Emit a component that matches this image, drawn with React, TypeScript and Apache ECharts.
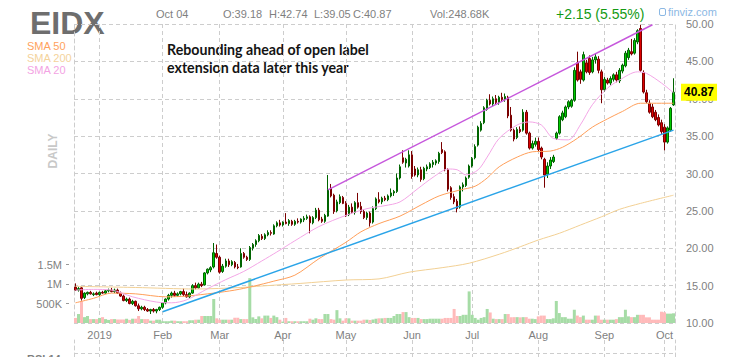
import React, { useEffect, useRef } from "react";
import * as echarts from "echarts";

// ---------- categories ----------
const FIRST_SESSION = "2018-12-19";
const SESSION_COUNT = 200;
const MARKET_HOLIDAYS = ["2018-12-25", "2019-01-01", "2019-01-21", "2019-02-18", "2019-04-19", "2019-05-27", "2019-07-04", "2019-09-02"];
const MONTH_NAMES = ["Jan", "Feb", "Mar", "Apr", "May", "Jun", "Jul", "Aug", "Sep", "Oct", "Nov", "Dec"];

// ---------- daily candles: [open, high, low, close] ----------
const dec18 = [
  [14.8, 15.3, 14.3, 14.4], [14.4, 14.8, 14.2, 14.6], [14.7, 14.8, 13.0, 13.3], [13.4, 14.1, 13.2, 14.0],
  [13.9, 14.2, 13.7, 14.1], [14.1, 14.3, 13.8, 13.9], [13.8, 14.1, 13.6, 13.9], [14.0, 14.2, 13.7, 13.8],
];
const jan19 = [
  [13.8, 14.2, 13.6, 14.1], [14.1, 14.3, 13.9, 14.0], [14.0, 14.4, 13.9, 14.3], [14.3, 14.6, 14.1, 14.4],
  [14.4, 14.7, 14.1, 14.2], [14.2, 14.6, 14.0, 14.4], [14.4, 14.6, 13.9, 14.0], [14.0, 14.2, 13.5, 13.6],
  [13.6, 13.8, 12.9, 13.0], [13.0, 13.4, 12.8, 13.2], [13.2, 13.4, 12.5, 12.6], [12.6, 13.1, 12.4, 12.9],
  [12.9, 13.0, 12.2, 12.3], [12.3, 12.6, 11.6, 11.9], [11.9, 12.3, 11.7, 12.1], [12.1, 12.3, 11.6, 11.8],
  [11.8, 12.0, 11.5, 11.6], [11.6, 11.9, 11.2, 11.8], [11.8, 12.0, 11.4, 11.6], [11.6, 11.9, 11.3, 11.8],
  [11.8, 12.2, 11.6, 12.1],
];
const feb19 = [
  [12.1, 12.8, 11.9, 12.7], [12.7, 13.3, 12.5, 13.2], [13.2, 13.9, 13.0, 13.7], [13.7, 14.2, 13.4, 14.0],
  [14.0, 14.3, 13.5, 13.7], [13.7, 14.1, 13.5, 13.9], [13.9, 14.3, 13.7, 14.2], [14.2, 14.6, 13.6, 13.8],
  [13.8, 14.2, 13.4, 13.5], [13.5, 14.1, 13.3, 14.0], [14.0, 15.2, 13.9, 15.0], [15.0, 15.4, 14.5, 14.7],
  [14.7, 15.4, 14.6, 15.2], [15.2, 15.5, 14.8, 15.0], [15.1, 16.8, 15.0, 16.7], [16.7, 17.3, 16.5, 17.2],
  [17.1, 17.6, 16.8, 17.4], [17.5, 20.7, 17.3, 19.4], [19.3, 20.5, 18.6, 18.8],
];
const mar19 = [
  [18.8, 19.0, 16.6, 16.8], [16.9, 17.9, 16.7, 17.6], [17.6, 18.6, 17.4, 18.3], [18.3, 18.6, 17.5, 17.8],
  [17.8, 18.4, 17.6, 18.2], [18.1, 18.3, 17.3, 17.5], [17.5, 17.9, 17.2, 17.4], [17.5, 20.0, 17.4, 19.3],
  [19.3, 19.5, 18.6, 18.8], [18.8, 19.0, 18.3, 18.5], [18.5, 20.3, 18.3, 20.1], [20.0, 20.7, 19.7, 20.5],
  [20.5, 21.2, 20.2, 21.0], [21.0, 21.9, 20.8, 21.7], [21.6, 21.9, 21.1, 21.3], [21.3, 22.0, 21.1, 21.8],
  [21.8, 22.4, 21.6, 22.1], [22.1, 22.4, 21.7, 22.0], [21.9, 23.2, 21.8, 23.0], [23.0, 23.6, 22.8, 23.4],
  [23.4, 23.8, 22.9, 23.1],
];
const apr19 = [
  [23.1, 23.6, 22.9, 23.5], [23.5, 24.7, 23.2, 23.3], [23.3, 23.9, 23.0, 23.7], [23.6, 23.8, 23.0, 23.2],
  [23.2, 23.8, 23.0, 23.6], [23.6, 24.0, 23.3, 23.5], [23.5, 24.0, 23.3, 23.9], [23.8, 24.3, 23.5, 24.0],
  [24.0, 24.5, 23.8, 24.2], [24.2, 24.4, 22.0, 23.4], [23.4, 24.3, 23.2, 24.1], [24.1, 25.4, 23.9, 25.1],
  [25.1, 25.4, 23.6, 23.8], [23.9, 24.2, 23.4, 23.6], [23.6, 24.6, 23.4, 24.4], [24.3, 29.8, 24.2, 27.8],
  [28.0, 28.6, 26.8, 27.0], [27.1, 27.3, 24.6, 24.9], [25.0, 26.5, 24.8, 26.2], [26.1, 27.2, 25.9, 26.9],
  [26.8, 27.0, 25.9, 26.0],
];
const may19 = [
  [26.0, 26.3, 24.2, 24.4], [24.5, 25.8, 24.3, 25.5], [25.5, 26.0, 24.6, 24.8], [24.8, 26.3, 24.5, 26.1],
  [26.1, 27.4, 25.3, 25.5], [25.6, 26.2, 24.6, 24.9], [24.9, 25.2, 23.9, 24.1], [24.1, 24.9, 23.8, 24.7],
  [24.7, 24.9, 22.9, 23.4], [23.5, 25.6, 23.3, 25.3], [25.3, 26.8, 25.1, 26.6], [26.5, 27.5, 26.0, 26.2],
  [26.2, 26.9, 25.9, 26.7], [26.7, 27.0, 26.3, 26.5], [26.5, 27.2, 26.3, 27.0], [27.0, 28.0, 26.8, 27.4],
  [27.4, 27.8, 27.0, 27.6], [27.6, 30.0, 27.4, 29.4], [29.4, 31.2, 29.2, 30.9], [32.1, 33.1, 31.3, 31.5],
  [31.4, 32.1, 30.8, 31.9], [31.0, 33.1, 30.8, 32.5],
];
const jun19 = [
  [32.5, 33.0, 29.3, 29.6], [30.6, 31.0, 29.6, 29.8], [29.8, 30.8, 29.5, 30.5], [30.5, 30.9, 28.9, 29.2],
  [29.3, 30.9, 29.1, 30.7], [30.6, 31.2, 30.3, 30.9], [30.8, 31.5, 30.6, 31.3], [31.2, 31.8, 30.8, 31.5],
  [31.4, 31.9, 31.1, 31.7], [31.6, 32.9, 31.3, 32.7], [33.2, 34.2, 32.6, 32.8], [32.9, 33.1, 30.3, 30.5],
  [30.5, 30.7, 27.6, 27.9], [28.1, 28.3, 26.5, 26.8], [26.9, 27.3, 25.9, 26.2], [26.3, 26.6, 24.8, 25.3],
  [25.5, 28.4, 25.3, 28.2], [28.2, 28.8, 27.6, 28.5], [28.4, 29.6, 28.2, 29.4], [29.5, 31.2, 29.3, 31.0],
];
const jul19 = [
  [31.0, 32.2, 30.8, 32.0], [32.1, 33.9, 31.9, 33.6], [33.8, 36.4, 33.6, 36.2], [35.8, 37.0, 35.6, 36.7],
  [36.8, 39.0, 36.6, 38.8], [38.6, 40.0, 38.4, 39.8], [39.8, 40.6, 39.1, 39.3], [39.3, 40.3, 39.0, 40.0],
  [40.0, 40.5, 39.2, 39.5], [39.5, 40.4, 39.2, 40.2], [40.2, 40.8, 39.6, 39.9], [39.9, 40.7, 39.6, 40.3],
  [40.2, 40.4, 37.4, 37.7], [37.8, 38.9, 35.6, 35.8], [35.8, 36.0, 34.3, 34.6], [34.8, 36.2, 34.6, 35.9],
  [35.9, 36.3, 35.4, 35.6], [35.8, 38.6, 35.6, 38.2], [38.2, 38.5, 35.2, 35.4], [35.4, 35.6, 33.2, 33.4],
  [33.4, 34.4, 33.2, 34.0], [33.9, 34.8, 33.6, 34.3],
];
const aug19 = [
  [34.3, 34.8, 33.0, 33.2], [33.4, 33.6, 31.9, 32.2], [31.9, 32.1, 28.1, 29.8], [29.9, 31.5, 29.4, 31.0],
  [31.0, 32.2, 30.6, 31.8], [31.6, 32.5, 31.4, 32.2], [34.7, 35.6, 34.5, 35.4], [35.4, 37.8, 35.2, 37.6],
  [37.2, 38.4, 37.0, 38.1], [37.6, 39.1, 37.4, 38.9], [38.9, 39.8, 38.6, 39.6], [39.0, 40.0, 38.8, 39.8],
  [39.8, 44.2, 39.6, 43.8], [44.8, 46.3, 42.3, 42.5], [43.6, 43.9, 42.0, 42.6], [42.5, 46.3, 42.3, 45.9],
  [44.8, 45.2, 43.4, 43.6], [45.4, 45.8, 43.2, 43.5], [43.6, 45.6, 43.4, 45.2], [45.2, 46.1, 44.7, 45.6],
  [45.3, 45.7, 43.4, 43.8], [43.6, 43.9, 39.4, 41.2],
];
const sep19 = [
  [41.2, 42.9, 40.9, 42.6], [42.5, 42.8, 41.9, 42.1], [42.1, 43.0, 41.8, 42.7], [42.6, 43.4, 42.3, 43.2],
  [43.2, 43.6, 42.2, 42.5], [42.4, 44.1, 42.1, 43.8], [43.7, 44.7, 43.4, 44.5], [44.4, 46.4, 44.2, 46.1],
  [45.5, 46.8, 45.2, 46.5], [46.3, 48.0, 45.8, 46.0], [46.1, 48.1, 45.9, 47.8], [47.6, 49.3, 47.3, 49.1],
  [49.4, 49.9, 43.6, 43.8], [43.5, 43.8, 40.7, 40.9], [40.8, 41.2, 39.4, 39.6], [39.4, 39.8, 38.0, 38.2],
  [38.9, 39.3, 37.4, 37.6], [38.2, 38.5, 37.0, 37.2], [37.5, 37.9, 36.3, 36.5], [36.8, 37.2, 35.3, 35.6],
];
const oct19 = [
  [36.2, 36.6, 33.1, 34.2], [34.2, 36.3, 34.0, 36.1], [35.8, 38.9, 35.6, 38.72], [39.18, 42.74, 39.05, 40.87],
];

// ---------- daily volume, thousands of shares ----------
const volDec18 = [130, 230, 560, 150, 180, 100, 100, 100];
const volJan19 = [130, 150, 100, 80, 100, 100, 90, 90, 90, 110, 80, 110, 110, 180, 100, 100, 100, 60, 60, 85, 85];
const volFeb19 = [45, 45, 45, 60, 60, 45, 45, 45, 45, 70, 70, 85, 85, 180, 180, 180, 180, 615, 120];
const volMar19 = [85, 85, 85, 85, 85, 135, 135, 100, 100, 100, 1150, 145, 100, 170, 120, 190, 190, 130, 190, 150, 85];
const volApr19 = [35, 130, 45, 45, 45, 45, 45, 45, 45, 110, 85, 120, 100, 100, 230, 230, 100, 85, 330, 120, 60];
const volMay19 = [120, 120, 60, 60, 60, 60, 85, 85, 77, 90, 110, 120, 120, 130, 130, 130, 180, 230, 230, 280, 280, 150];
const volJun19 = [130, 130, 130, 100, 100, 100, 110, 110, 110, 110, 110, 130, 130, 130, 360, 180, 180, 210, 210, 810];
const volJul19 = [210, 130, 85, 130, 150, 360, 270, 110, 100, 100, 100, 230, 230, 150, 150, 150, 145, 150, 150, 110, 110, 100];
const volAug19 = [170, 190, 190, 100, 100, 120, 565, 255, 150, 150, 110, 110, 340, 190, 150, 190, 85, 85, 85, 190, 190, 85];
const volSep19 = [85, 85, 85, 85, 100, 150, 150, 340, 170, 150, 150, 210, 210, 210, 145, 145, 85, 85, 85, 290];
const volOct19 = [275, 240, 240, 248.68];

// ---------- moving averages: [session index, value] ----------
const sma20 = [
  [0, 14.4], [6, 14.5], [12, 14.4], [19, 13.5], [27, 12.8], [32, 12.7], [37, 13.1], [44, 14.6], [50, 15.8],
  [56, 16.9], [62, 18.3], [67, 19.5], [73, 21.0], [81, 22.9], [90, 24.4], [97, 25.3], [103, 25.7], [108, 26.2],
  [114, 28.0], [119, 29.5], [124, 30.6], [127, 30.5], [130, 29.8], [134, 30.5], [137, 32.2], [141, 34.7],
  [147, 36.5], [151, 36.9], [155, 36.5], [159, 34.7], [164, 34.5], [168, 36.5], [172, 39.2], [177, 41.4],
  [181, 42.5], [187, 43.6], [190, 43.4], [195, 42.1], [199, 40.8],
];
const sma50 = [
  [0, 12.7], [6, 13.3], [12, 14.0], [20, 13.9], [30, 13.5], [37, 13.6], [46, 14.0], [53, 14.4], [59, 14.9],
  [66, 15.6], [73, 16.4], [81, 18.6], [90, 20.8], [95, 22.2], [101, 23.3], [108, 24.3], [115, 25.8], [121, 27.0],
  [128, 27.8], [133, 28.3], [137, 29.4], [141, 30.9], [147, 32.2], [152, 32.9], [158, 33.0], [162, 33.5],
  [167, 34.7], [172, 36.2], [177, 37.3], [182, 38.3], [188, 39.4], [195, 39.4], [199, 39.4],
];
const sma200 = [
  [0, 14.9], [20, 14.75], [40, 14.55], [55, 14.75], [62, 14.95], [75, 15.3], [90, 15.75], [101, 15.9],
  [111, 16.8], [122, 17.4], [131, 18.0], [141, 19.2], [148, 20.2], [154, 21.1], [161, 22.0], [168, 23.1],
  [175, 24.2], [181, 25.2], [188, 26.0], [199, 27.1],
];

// ---------- hand-drawn trend lines: [session index, price] ----------
const channelTop = [[84, 27.8], [192, 49.9]];
const channelBottom = [[29, 11.5], [199, 35.8]];

// ---------- axes ----------
const PRICE_MIN = 10;
const PRICE_MAX = 50;
const PRICE_STEP = 5;
const VOLUME_TICKS = [500000, 1000000, 1500000];
const VOLUME_AXIS_MAX = 7666667;

const GRID_COLOR = "#cdcdcd";
const DASH = [4, 3];
const LABEL_GRAY = "#7f7f7f";
const SANS = '"Liberation Sans", Arial, sans-serif';

function buildSessions(): string[] {
  const out: string[] = [];
  const d = new Date(FIRST_SESSION + "T00:00:00Z");
  while (out.length < SESSION_COUNT) {
    const dow = d.getUTCDay();
    const iso = d.toISOString().slice(0, 10);
    if (dow !== 0 && dow !== 6 && !MARKET_HOLIDAYS.includes(iso)) out.push(iso);
    d.setUTCDate(d.getUTCDate() + 1);
  }
  return out;
}

export default function App() {
  const ref = useRef<HTMLDivElement>(null);

  useEffect(() => {
    if (!ref.current) return;
    const chart = echarts.init(ref.current, undefined, { renderer: "svg" });

    const sessions = buildSessions();
    const ohlc = [...dec18, ...jan19, ...feb19, ...mar19, ...apr19, ...may19, ...jun19, ...jul19, ...aug19, ...sep19, ...oct19];
    const volumes = [...volDec18, ...volJan19, ...volFeb19, ...volMar19, ...volApr19, ...volMay19, ...volJun19, ...volJul19, ...volAug19, ...volSep19, ...volOct19];

    const isMonthStart = (i: number) => i > 0 && sessions[i].slice(0, 7) !== sessions[i - 1].slice(0, 7);
    const monthLabel = (v: string) => {
      const m = Number(v.slice(5, 7));
      return m === 1 ? v.slice(0, 4) : MONTH_NAMES[m - 1];
    };

    const last = ohlc[ohlc.length - 1];
    const prev = ohlc[ohlc.length - 2];
    const change = last[3] - prev[3];
    const pct = (change / prev[3]) * 100;
    const lastDate = sessions[sessions.length - 1];
    const lastVol = volumes[volumes.length - 1];
    const lastDateLabel = `${MONTH_NAMES[Number(lastDate.slice(5, 7)) - 1]} ${lastDate.slice(8, 10)}`;

    const txt = (text: string, x: number, y: number, font: string, fill: string, extra: any = {}, el: any = {}) => ({
      type: "text", x, y, silent: true, ...el,
      style: { text, font, fill, align: "left", verticalAlign: "middle", ...extra },
    });

    const borderAxis = (gridIndex: number, position: string) => ({
      type: "value", gridIndex, position, min: 0, max: 1,
      axisLine: { show: true, lineStyle: { color: GRID_COLOR, type: DASH } },
      axisTick: { show: false }, axisLabel: { show: false }, splitLine: { show: false },
    });

    const option: any = {
      animation: false,
      backgroundColor: "#ffffff",
      grid: [
        { left: 74, right: 76, top: 24, bottom: 34 },
        { left: 74, right: 76, top: 340, bottom: 0 },
      ],
      xAxis: [
        {
          type: "category", gridIndex: 0, data: sessions, boundaryGap: true,
          axisLine: { show: false }, axisTick: { show: false },
          axisLabel: {
            interval: (i: number) => isMonthStart(i), formatter: monthLabel,
            color: LABEL_GRAY, fontSize: 11, fontFamily: SANS, margin: 6,
          },
          splitLine: { show: true, interval: (i: number) => isMonthStart(i), alignWithLabel: true, lineStyle: { color: GRID_COLOR, type: DASH } },
        },
        {
          type: "category", gridIndex: 1, data: sessions, boundaryGap: true,
          axisLine: { show: false }, axisTick: { show: false }, axisLabel: { show: false },
          splitLine: { show: true, interval: (i: number) => isMonthStart(i), alignWithLabel: true, lineStyle: { color: GRID_COLOR, type: DASH } },
        },
      ],
      yAxis: [
        {
          type: "value", gridIndex: 0, position: "right", min: PRICE_MIN, max: PRICE_MAX, interval: PRICE_STEP,
          axisLine: { show: true, lineStyle: { color: GRID_COLOR, type: DASH } },
          axisTick: { show: false },
          splitLine: { show: true, lineStyle: { color: GRID_COLOR, type: DASH } },
          axisLabel: { color: LABEL_GRAY, fontSize: 11, fontFamily: SANS, margin: 11, formatter: (v: number) => v.toFixed(2) },
        },
        {
          type: "value", gridIndex: 0, position: "left", offset: 5, min: 0, max: VOLUME_AXIS_MAX,
          splitLine: { show: false }, axisLine: { show: false },
          axisTick: { show: true, length: 3, customValues: VOLUME_TICKS, lineStyle: { color: "#9a9a9a" } },
          axisLabel: {
            customValues: VOLUME_TICKS, color: LABEL_GRAY, fontSize: 11, fontFamily: SANS, margin: 7,
            formatter: (v: number) => (v >= 1e6 ? `${v / 1e6}M` : `${v / 1e3}K`),
          },
        },
        borderAxis(0, "left"),
        borderAxis(1, "left"),
        borderAxis(1, "right"),
        {
          // last-price tag, placed by the price scale
          type: "value", gridIndex: 0, position: "right", min: PRICE_MIN, max: PRICE_MAX,
          axisLine: { show: false }, axisTick: { show: false }, splitLine: { show: false },
          axisLabel: {
            customValues: [last[3]], margin: 6, formatter: (v: number) => v.toFixed(2),
            color: "#000", fontSize: 12, fontWeight: "bold", fontFamily: SANS,
            backgroundColor: "#ffff00", padding: [3, 3, 2, 3],
          },
        },
      ],
      series: [
        {
          name: "Volume", type: "bar", xAxisIndex: 0, yAxisIndex: 1, barWidth: 3, z: 1,
          data: volumes.map((v, i) => ({
            value: v * 1000,
            itemStyle: { color: ohlc[i][3] >= ohlc[i][0] ? "#a6dca6" : "#ffbaba" },
          })),
        },
        { name: "SMA 200", type: "line", yAxisIndex: 0, data: sma200, symbol: "none", smooth: 0.3, lineStyle: { color: "#f2d094", width: 1 } },
        { name: "SMA 50", type: "line", yAxisIndex: 0, data: sma50, symbol: "none", smooth: 0.3, lineStyle: { color: "#ff9f5a", width: 1 } },
        { name: "SMA 20", type: "line", yAxisIndex: 0, data: sma20, symbol: "none", smooth: 0.3, lineStyle: { color: "#f3a6e6", width: 1 } },
        { name: "Channel top", type: "line", yAxisIndex: 0, data: channelTop, symbol: "none", clip: false, lineStyle: { color: "#c657dc", width: 1.5 } },
        { name: "Channel bottom", type: "line", yAxisIndex: 0, data: channelBottom, symbol: "none", clip: false, lineStyle: { color: "#2aa4e8", width: 1.5 } },
        {
          name: "EIDX", type: "candlestick", xAxisIndex: 0, yAxisIndex: 0, barWidth: 2,
          data: ohlc.map((d) => [d[0], d[3], d[2], d[1]]),
          itemStyle: { color: "#00cc00", borderColor: "#006400", color0: "#dd0000", borderColor0: "#7a0000", borderWidth: 1 },
        },
      ],
      graphic: [
        txt("EIDX", 30, 23, `bold 32px ${SANS}`, "#6e6e6e", { textShadowColor: "rgba(90,160,230,0.8)", textShadowOffsetX: 1, textShadowBlur: 0 }),
        txt(lastDateLabel, 156, 14, `11px ${SANS}`, LABEL_GRAY),
        txt(`O:${last[0].toFixed(2)}`, 223, 14, `11px ${SANS}`, LABEL_GRAY),
        txt(`H:${last[1].toFixed(2)}`, 269, 14, `11px ${SANS}`, LABEL_GRAY),
        txt(`L:${last[2].toFixed(2)}`, 314, 14, `11px ${SANS}`, LABEL_GRAY),
        txt(`C:${last[3].toFixed(2)}`, 353, 14, `11px ${SANS}`, LABEL_GRAY),
        txt(`Vol:${lastVol.toFixed(2)}K`, 430, 14, `11px ${SANS}`, LABEL_GRAY),
        txt(`+${change.toFixed(2)} (${pct.toFixed(2)}%)`, 556, 14, `14px ${SANS}`, "#139a13"),
        { type: "rect", silent: true, shape: { x: 659.5, y: 8.5, width: 6, height: 7, r: 1.5 }, style: { fill: "none", stroke: "#8bb8e4", lineWidth: 1 } },
        txt("finviz.com", 668, 12, `11px ${SANS}`, "#8bb8e4"),
        txt("SMA 50", 27, 46, `11px ${SANS}`, "#ffa25e"),
        txt("SMA 200", 27, 58, `11px ${SANS}`, "#f4d39c"),
        txt("SMA 20", 27, 70, `11px ${SANS}`, "#f3a3e3"),
        txt("Rebounding ahead of open label", 167, 49, "bold 14.2px Lato", "#141414"),
        txt("extension data later this year", 167, 67, "bold 14.2px Lato", "#141414"),
        txt("DAILY", 53, 151, `bold 12px ${SANS}`, "#c8c8c8", { align: "center" }, { rotation: Math.PI / 2 }),
        { type: "line", silent: true, shape: { x1: 74, y1: 353.5, x2: 675, y2: 353.5 }, style: { stroke: GRID_COLOR, lineWidth: 1, lineDash: DASH } },
        txt("RSI 14", 27, 359, `bold 11px ${SANS}`, LABEL_GRAY),
      ],
    };

    chart.setOption(option);
    return () => chart.dispose();
  }, []);

  return <div ref={ref} style={{ position: "fixed", left: 0, top: 0, width: 751, height: 357, background: "#fff" }} />;
}
